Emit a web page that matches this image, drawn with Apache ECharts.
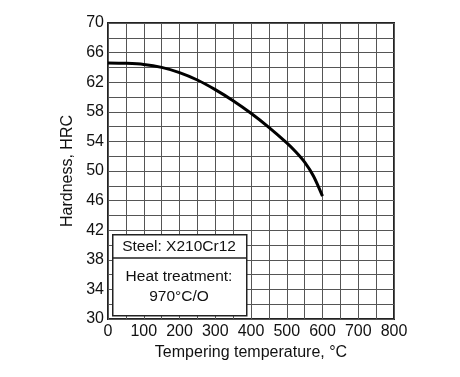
<!DOCTYPE html>
<html>
<head>
<meta charset="utf-8">
<script src="https://cdn.jsdelivr.net/npm/echarts@6/dist/echarts.min.js"></script>
<style>
  html, body { margin: 0; padding: 0; background: #fff; }
  #chart { width: 460px; height: 377px; }
</style>
</head>
<body>
<div id="chart"></div>
<script>
// tempering temperature (°C) and hardness (HRC)
var temps = [0, 50, 100, 150, 200, 250, 300, 350, 400, 450, 500, 525, 550, 575, 600];
var hardness = [64.6, 64.55, 64.4, 64.0, 63.3, 62.3, 61.0, 59.5, 57.8, 55.9, 53.8, 52.6, 51.2, 49.3, 46.6];
var steelLabel = 'Steel: X210Cr12';
var treatLabel = ['Heat treatment:', '970\u00b0C/O'];

var font = '"Liberation Sans", Arial, sans-serif';
var chart = echarts.init(document.getElementById('chart'));

var option = {
  animation: false,
  textStyle: { fontFamily: font },
  grid: {
    left: 108, top: 23, right: 66, bottom: 58,
    show: true, borderColor: '#222', borderWidth: 2, backgroundColor: 'transparent'
  },
  xAxis: {
    type: 'value', min: 0, max: 800, interval: 50,
    name: 'Tempering temperature, \u00b0C', nameLocation: 'middle', nameGap: 25,
    nameTextStyle: { fontSize: 16, color: '#111', fontFamily: font },
    axisLine: { show: false }, axisTick: { show: false },
    axisLabel: {
      fontSize: 16, color: '#111', margin: 5,
      formatter: function (v) { return v % 100 === 0 ? String(v) : ''; }
    },
    splitLine: { show: true, lineStyle: { color: '#555', width: 1 } }
  },
  yAxis: {
    type: 'value', min: 30, max: 70, interval: 2,
    name: 'Hardness, HRC', nameLocation: 'middle', nameGap: 22,
    nameTextStyle: { fontSize: 16, color: '#111', fontFamily: font },
    axisLine: { show: false }, axisTick: { show: false },
    axisLabel: {
      fontSize: 16, color: '#111', margin: 4,
      formatter: function (v) { return (v - 30) % 4 === 0 ? String(v) : ''; }
    },
    splitLine: { show: true, lineStyle: { color: '#555', width: 1 } }
  },
  series: [{
    type: 'line',
    data: temps.map(function (t, i) { return [t, hardness[i]]; }),
    smooth: 0.3,
    showSymbol: false,
    lineStyle: { color: '#000', width: 3 },
    z: 5
  }],
  graphic: [
    {
      type: 'rect', left: 112, top: 234, z: 10,
      shape: { width: 134, height: 81 },
      style: { fill: '#fff', stroke: '#222', lineWidth: 1.5 }
    },
    {
      type: 'line', z: 11,
      shape: { x1: 112, y1: 258, x2: 246, y2: 258 },
      style: { stroke: '#222', lineWidth: 1.5 }
    },
    {
      type: 'text', z: 12, x: 179, y: 247,
      style: { text: steelLabel, font: '15.5px ' + font, fill: '#111', align: 'center', verticalAlign: 'middle' }
    },
    {
      type: 'text', z: 12, x: 179, y: 287,
      style: { text: treatLabel.join('\n'), font: '15.5px ' + font, lineHeight: 20, fill: '#111', align: 'center', verticalAlign: 'middle' }
    }
  ]
};
chart.setOption(option);
</script>
</body>
</html>
